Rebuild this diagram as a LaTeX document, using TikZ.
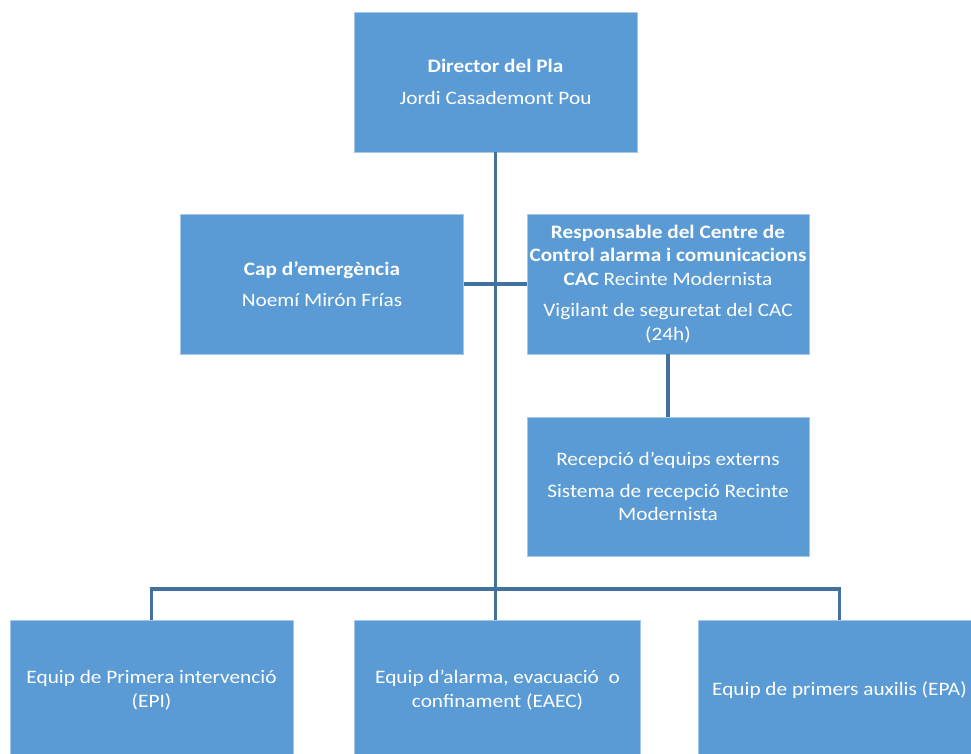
\documentclass[tikz,border=0pt]{standalone}
\usepackage{fontspec}
\setmainfont{Carlito}[FakeStretch=1.12]
\definecolor{boxblue}{HTML}{5B9BD5}
\definecolor{lineblue}{HTML}{41719C}
\begin{document}
\begin{tikzpicture}[x=1pt,y=1pt,
	orgbox/.style={fill=boxblue,draw=boxblue!55!white,line width=0.7pt,text=white,align=center,
		minimum width=283pt,minimum height=140pt,inner sep=2pt,font=\fontsize{19}{23.5}\selectfont},
	link/.style={draw=lineblue,line width=3.2pt}]
	\useasboundingbox (0,0) rectangle (971,753);
	\node[orgbox] (dir) at (495.5,671) {\textbf{Director del Pla}\\[8pt]Jordi Casademont Pou};
	\node[orgbox] (cap) at (322,469) {\textbf{Cap d’emergència}\\[8pt]Noemí Mirón Frías};
	\node[orgbox,minimum width=282pt] (resp) at (668,469) {\textbf{Responsable del Centre de}\\\textbf{Control alarma i comunicacions}\\\textbf{CAC} Recinte Modernista\\[8pt]Vigilant de seguretat del CAC\\(24h)};
	\node[orgbox,minimum width=282pt,minimum height=139pt] (recep) at (668,266.5) {Recepció d’equips externs\\[8pt]Sistema de recepció Recinte\\Modernista};
	\node[orgbox] (epi) at (151.5,63) {Equip de Primera intervenció\\(EPI)};
	\node[orgbox,minimum width=286pt] (eaec) at (497.5,63) {Equip d’alarma, evacuació~~o\\confinament (EAEC)};
	\node[orgbox] (epa) at (839.5,63) {Equip de primers auxilis (EPA)};
	\coordinate (bar) at (495.5,164);
	\draw[link] (dir.south) -- (dir.south |- eaec.north);
	\draw[link] (cap.east) -- (resp.west);
	\draw[link] (resp.south) -- (recep.north);
	\draw[link] (epi.north) |- (bar) -| (epa.north);
\end{tikzpicture}
\end{document}
